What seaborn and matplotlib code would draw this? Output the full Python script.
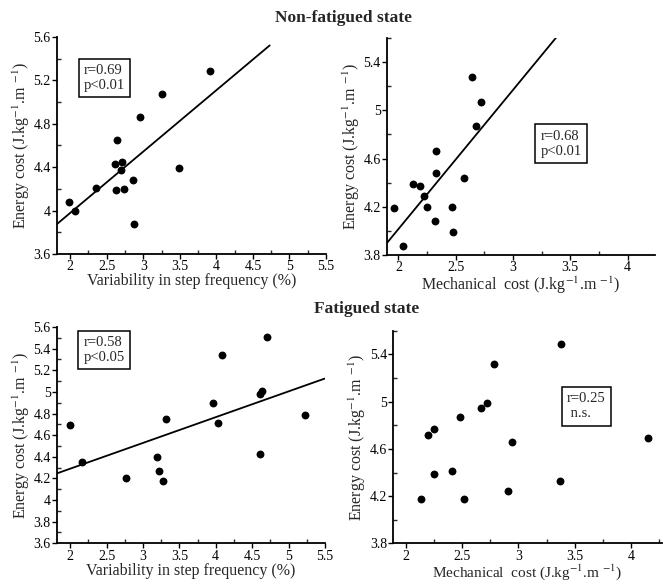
import matplotlib
matplotlib.use('Agg')

import matplotlib.pyplot as plt
from matplotlib.ticker import FixedLocator, MultipleLocator, FuncFormatter
import seaborn as sns

# ---- data ----
# non-fatigued state
nf_step_var = [1.99, 2.07, 2.36, 2.61, 2.64, 2.63, 2.71, 2.69, 2.74, 2.86, 2.88, 2.95, 3.25, 3.49, 3.92]
nf_energy_a = [4.075, 4.00, 4.21, 4.425, 4.65, 4.19, 4.45, 4.37, 4.20, 4.28, 3.88, 4.86, 5.07, 4.39, 5.29]
nf_mech_cost = [1.96, 2.04, 2.13, 2.19, 2.22, 2.25, 2.32, 2.33, 2.33, 2.47, 2.48, 2.57, 2.64, 2.68, 2.72]
nf_energy_b = [4.19, 3.875, 4.39, 4.37, 4.29, 4.20, 4.08, 4.66, 4.48, 4.20, 3.99, 4.44, 5.28, 4.87, 5.07]

# fatigued state
f_step_var = [2.00, 2.16, 2.77, 3.20, 3.22, 3.28, 3.32, 3.96, 4.03, 4.09, 4.61, 4.61, 4.63, 4.70, 5.22]
f_energy_a = [4.69, 4.35, 4.20, 4.40, 4.27, 4.18, 4.745, 4.895, 4.71, 5.34, 4.43, 4.98, 5.01, 5.51, 4.785]
f_mech_cost = [2.14, 2.20, 2.25, 2.25, 2.41, 2.48, 2.52, 2.67, 2.72, 2.78, 2.91, 2.94, 3.37, 3.38, 4.15]
f_energy_b = [4.175, 4.72, 4.77, 4.39, 4.41, 4.87, 4.18, 4.95, 4.99, 5.32, 4.24, 4.66, 4.33, 5.49, 4.69]

stats_text = ['r=0.69\np<0.01', 'r=0.68\np<0.01', 'r=0.58\np<0.05', 'r=0.25\n n.s.']

# x span over which each regression line was drawn (None = no line)
fit_span = [(1.82, 4.73), (1.90, 4.24), (1.82, 5.50), None]

step_xticks = [2, 2.5, 3, 3.5, 4, 4.5, 5, 5.5]
mech_xticks = [2, 2.5, 3, 3.5, 4]
yticks_a_nf = [3.6, 4, 4.4, 4.8, 5.2, 5.6]
yticks_a_f = [3.6, 3.8, 4, 4.2, 4.4, 4.6, 4.8, 5, 5.2, 5.4, 5.6]
yticks_b = [3.8, 4.2, 4.6, 5, 5.4]

XLAB_STEP = 'Variability in step frequency (%)'
XLAB_MECH = 'Mechanical  cost (J.kg$^{-1}$.m $^{-1}$)'
YLAB = 'Energy cost (J.kg$^{-1}$.m $^{-1}$)'

sns.set_style('ticks')
plt.rcParams['font.family'] = ['Liberation Serif', 'DejaVu Serif']
plt.rcParams['mathtext.fontset'] = 'stix'


def draw_panel(ax, x, y, span, xlim, ylim, xticks, yticks, xminor, yminor,
               xlabel, text, text_pos, xlabelpad=0, xlabelsize=11.5):
    """Scatter + optional regression line, styled like the scanned figure."""
    scatter_kws = {'s': 32, 'color': 'black', 'linewidths': 0, 'alpha': 1}
    if span is not None:
        ax.set_xlim(*span)   # regplot uses current xlim for the line extent
        sns.regplot(x=x, y=y, ax=ax, ci=None, truncate=False,
                    scatter_kws=scatter_kws,
                    line_kws={'color': 'black', 'lw': 1.3})
    else:
        sns.regplot(x=x, y=y, ax=ax, fit_reg=False, scatter_kws=scatter_kws)

    ax.set_xlim(*xlim)
    ax.set_ylim(*ylim)
    ax.xaxis.set_major_locator(FixedLocator(xticks))
    ax.yaxis.set_major_locator(FixedLocator(yticks))
    ax.xaxis.set_minor_locator(MultipleLocator(xminor))
    ax.yaxis.set_minor_locator(MultipleLocator(yminor))
    fmt = FuncFormatter(lambda v, p: '{:g}'.format(round(v, 2)))
    ax.xaxis.set_major_formatter(fmt)
    ax.yaxis.set_major_formatter(fmt)

    ax.tick_params(which='major', direction='out', length=3.5, width=1,
                   labelsize=10, pad=1, colors='black')
    ax.tick_params(which='minor', direction='in', length=3, width=1)
    sns.despine(ax=ax)
    for side in ('left', 'bottom'):
        ax.spines[side].set_linewidth(1.3)
        ax.spines[side].set_color('black')

    ax.set_xlabel(xlabel, fontsize=xlabelsize, labelpad=xlabelpad)
    ax.set_ylabel(YLAB, fontsize=11.5, labelpad=1)
    ax.text(text_pos[0], text_pos[1], text, transform=ax.transAxes,
            ha='left', va='top', fontsize=10.5, linespacing=1.2,
            bbox={'boxstyle': 'square,pad=0.35', 'facecolor': 'white',
                  'edgecolor': 'black', 'linewidth': 1.1})


fig = plt.figure(figsize=(6.65, 5.85), dpi=100)
ax1 = fig.add_axes([0.0857, 0.5658, 0.4045, 0.371])
ax2 = fig.add_axes([0.5820, 0.5641, 0.4030, 0.371])
ax3 = fig.add_axes([0.0857, 0.0713, 0.4030, 0.3697])
ax4 = fig.add_axes([0.5914, 0.0710, 0.4036, 0.3637])

draw_panel(ax1, nf_step_var, nf_energy_a, fit_span[0], (1.82, 5.5), (3.6, 5.6),
           step_xticks, yticks_a_nf, 0.25, 0.2, XLAB_STEP, stats_text[0], (0.099, 0.877))
draw_panel(ax2, nf_mech_cost, nf_energy_b, fit_span[1], (1.90, 4.24), (3.8, 5.6),
           mech_xticks, yticks_b, 0.25, 0.2, XLAB_MECH, stats_text[1], (0.573, 0.578))
draw_panel(ax3, f_step_var, f_energy_a, fit_span[2], (1.82, 5.5), (3.6, 5.6),
           step_xticks, yticks_a_f, 0.25, 0.1, XLAB_STEP, stats_text[2], (0.099, 0.957))
draw_panel(ax4, f_mech_cost, f_energy_b, fit_span[3], (1.89, 4.27), (3.8, 5.6),
           mech_xticks, yticks_b, 0.25, 0.2, XLAB_MECH, stats_text[3], (0.647, 0.710),
           xlabelpad=-0.5, xlabelsize=11)

fig.text(343 / 665, 1 - 18 / 585, 'Non-fatigued state', ha='center', va='center',
         fontsize=12.5, fontweight='bold')
fig.text(367 / 665, 1 - 309 / 585, 'Fatigued state', ha='center', va='center',
         fontsize=12.5, fontweight='bold')

fig.savefig('out.png', dpi=100)
plt.close()
